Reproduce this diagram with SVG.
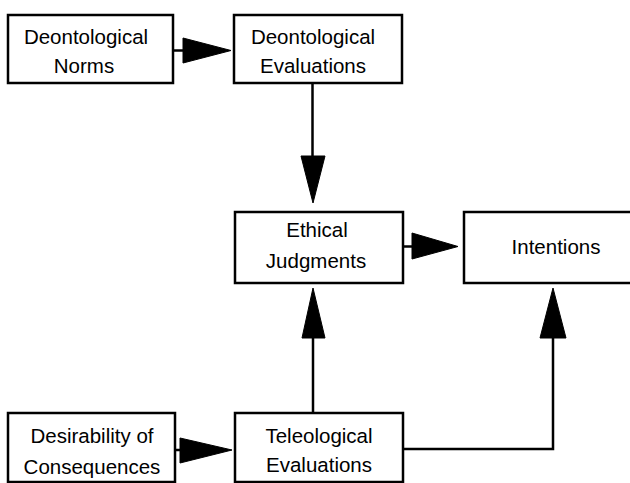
<svg xmlns="http://www.w3.org/2000/svg" width="630" height="483" viewBox="0 0 630 483">
<style>
.box{fill:#fff;stroke:#000;stroke-width:2.5}
.lbl{font-family:"Liberation Sans",Arial,sans-serif;font-size:20.5px;fill:#000;text-anchor:middle}
.ln{fill:none;stroke:#000;stroke-width:2.5}
.hd{fill:#000;stroke:#000;stroke-width:1}
</style>
<rect width="630" height="483" fill="#fff"/>
<g id="connectors">
<line class="ln" x1="173" y1="50.5" x2="184" y2="50.5"/>
<polygon class="hd" points="183,38 231,50.5 183,63"/>
<line class="ln" x1="312.5" y1="83" x2="312.5" y2="157"/>
<polygon class="hd" points="301,156 325,156 313,203"/>
<line class="ln" x1="403" y1="246.5" x2="413" y2="246.5"/>
<polygon class="hd" points="412,233 458,246.5 412,259"/>
<line class="ln" x1="313" y1="413" x2="313" y2="337"/>
<polygon class="hd" points="302,338 325,338 313,288"/>
<polyline class="ln" points="403,449 553,449 553,337"/>
<polygon class="hd" points="540,338 566,338 553,288"/>
<line class="ln" x1="175" y1="450" x2="182" y2="450"/>
<polygon class="hd" points="180,438 232,450 180,463"/>
</g>
<g id="deontological-norms">
<rect class="box" x="8" y="15" width="165" height="68"/>
<text class="lbl" x="86" y="44">Deontological</text>
<text class="lbl" x="84" y="73">Norms</text>
</g>
<g id="deontological-evaluations">
<rect class="box" x="234" y="15" width="168" height="68"/>
<text class="lbl" x="313" y="44">Deontological</text>
<text class="lbl" x="313" y="73">Evaluations</text>
</g>
<g id="ethical-judgments">
<rect class="box" x="235" y="212" width="168" height="71"/>
<text class="lbl" x="317" y="237">Ethical</text>
<text class="lbl" x="316" y="268">Judgments</text>
</g>
<g id="intentions">
<rect class="box" x="464" y="212" width="185" height="71"/>
<text class="lbl" x="556" y="254">Intentions</text>
</g>
<g id="desirability-of-consequences">
<rect class="box" x="8" y="413" width="167" height="69"/>
<text class="lbl" x="92" y="443">Desirability of</text>
<text class="lbl" x="92" y="474">Consequences</text>
</g>
<g id="teleological-evaluations">
<rect class="box" x="235" y="413" width="168" height="69"/>
<text class="lbl" x="319" y="443">Teleological</text>
<text class="lbl" x="319" y="472">Evaluations</text>
</g>
</svg>
